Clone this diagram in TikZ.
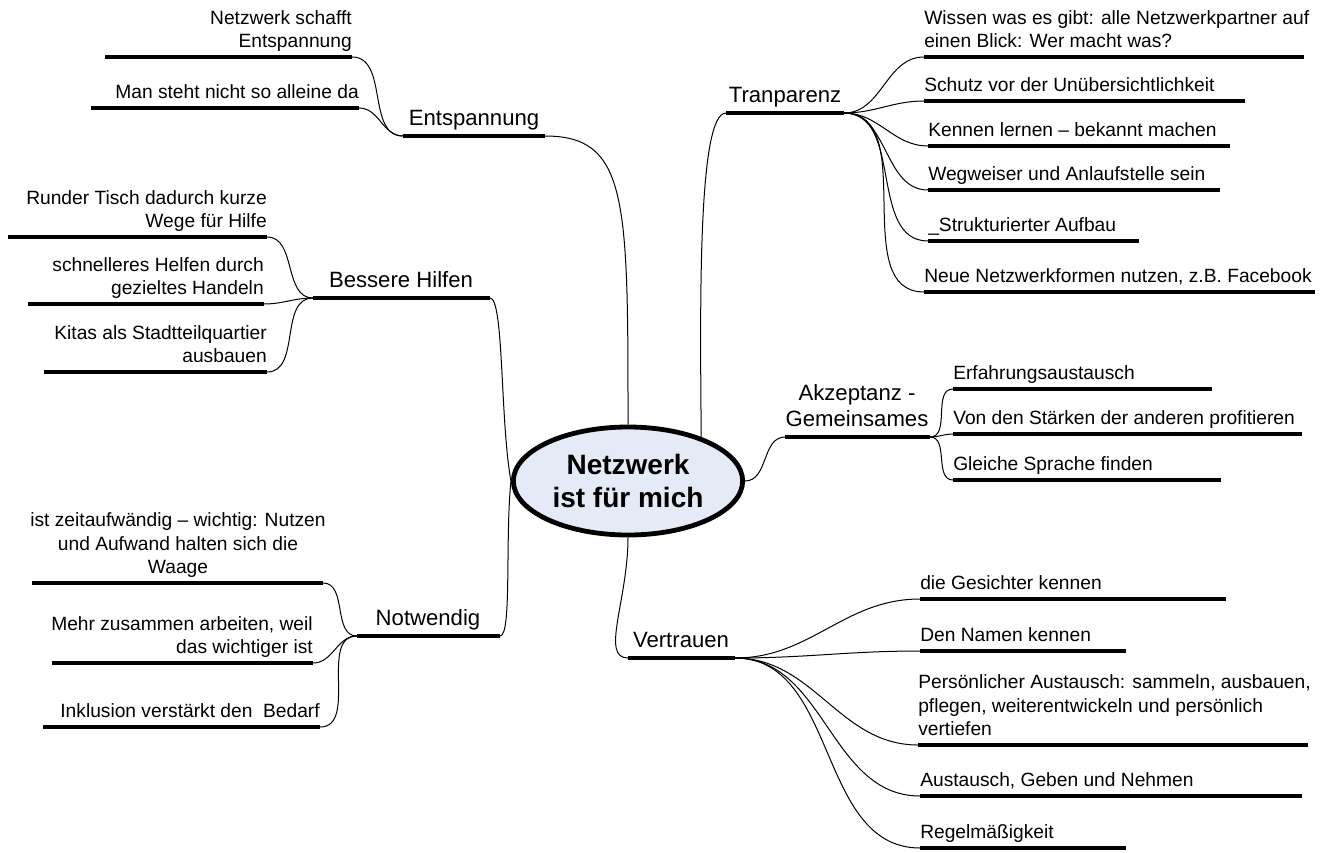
\documentclass[tikz,border=0pt]{standalone}
\usepackage{fontspec}
\setmainfont{Liberation Sans}
\usetikzlibrary{shapes.geometric}
\definecolor{ellfill}{RGB}{228,234,246}
\begin{document}
\begin{tikzpicture}[x=0.75pt,y=-0.75pt,
  ul/.style={line width=3.6pt},
  con/.style={line width=0.75pt},
  sub/.style={inner sep=0pt, font=\fontsize{14.4}{17.6}\selectfont, execute at end node=\strut},
  mainlbl/.style={inner sep=0pt, align=center, font=\fontsize{16.6}{20}\selectfont, execute at end node=\strut},
  lsub/.style={sub, anchor=south west, align=left},
  rsub/.style={sub, anchor=south east, align=right},
]
\useasboundingbox (0,0) rectangle (1326,852);

% centre
\node[ellipse, draw, line width=3.6pt, fill=ellfill, minimum width=172pt, minimum height=81pt, inner sep=0pt,
      align=center, font=\fontsize{21}{25}\selectfont\bfseries] (cen) at (628,481) {Netzwerk\\ist für mich};

% ---------- Entspannung
\coordinate (entL) at (403,136); \coordinate (entR) at (545,136);
\draw[ul] (entL) -- (entR);
\node[mainlbl, anchor=south] (ent) at (474,134) {Entspannung};
\coordinate (e1L) at (105,57); \coordinate (e1R) at (352,57);
\draw[ul] (e1L) -- (e1R);
\node[rsub] (e1) at (352,55) {Netzwerk schafft\\Entspannung};
\coordinate (e2L) at (91,108); \coordinate (e2R) at (359,108);
\draw[ul] (e2L) -- (e2R);
\node[rsub] (e2) at (359,106) {Man steht nicht so alleine da};
\draw[con] (entL) to[out=180,in=0] (e1R);
\draw[con] (entL) to[out=180,in=0] (e2R);
\draw[con] (entR) .. controls (628,136) and (628,200) .. (cen.north);

% ---------- Tranparenz
\coordinate (traL) at (726,113); \coordinate (traR) at (844,113);
\draw[ul] (traL) -- (traR);
\node[mainlbl, anchor=south] (tra) at (785,111) {Tranparenz};
\coordinate (t1L) at (924,57); \coordinate (t1R) at (1304,57);
\draw[ul] (t1L) -- (t1R);
\node[lsub] (t1) at (924,55) {Wissen was es gibt: alle Netzwerkpartner auf\\einen Blick: Wer macht was?};
\coordinate (t2L) at (924,101); \coordinate (t2R) at (1245,101);
\draw[ul] (t2L) -- (t2R);
\node[lsub] (t2) at (924,99) {Schutz vor der Unübersichtlichkeit};
\coordinate (t3L) at (928,146); \coordinate (t3R) at (1230,146);
\draw[ul] (t3L) -- (t3R);
\node[lsub] (t3) at (928,144) {Kennen lernen – bekannt machen};
\coordinate (t4L) at (928,190); \coordinate (t4R) at (1220,190);
\draw[ul] (t4L) -- (t4R);
\node[lsub] (t4) at (928,188) {Wegweiser und Anlaufstelle sein};
\coordinate (t5L) at (928,241); \coordinate (t5R) at (1139,241);
\draw[ul] (t5L) -- (t5R);
\node[lsub] (t5) at (928,239) {\_Strukturierter Aufbau};
\coordinate (t6L) at (924,292); \coordinate (t6R) at (1315,292);
\draw[ul] (t6L) -- (t6R);
\node[lsub] (t6) at (924,290) {Neue Netzwerkformen nutzen, z.B. Facebook};
\foreach \c in {t1L,t2L,t3L,t4L,t5L,t6L} \draw[con] (traR) to[out=0,in=180] (\c);
\draw[con] (cen.31) .. controls (700,300) and (698,113) .. (traL);

% ---------- Bessere Hilfen
\coordinate (besL) at (313,298); \coordinate (besR) at (490,298);
\draw[ul] (besL) -- (besR);
\node[mainlbl, anchor=south] (bes) at (401,296) {Bessere Hilfen};
\coordinate (b1L) at (8,237); \coordinate (b1R) at (267,237);
\draw[ul] (b1L) -- (b1R);
\node[rsub] (b1) at (267,235) {Runder Tisch dadurch kurze\\Wege für Hilfe};
\coordinate (b2L) at (28,304); \coordinate (b2R) at (264,304);
\draw[ul] (b2L) -- (b2R);
\node[rsub] (b2) at (264,302) {schnelleres Helfen durch\\gezieltes Handeln};
\coordinate (b3L) at (44,372); \coordinate (b3R) at (267,372);
\draw[ul] (b3L) -- (b3R);
\node[rsub] (b3) at (267,370) {Kitas als Stadtteilquartier\\ausbauen};
\foreach \c in {b1R,b2R,b3R} \draw[con] (besL) to[out=180,in=0] (\c);
\draw[con] (besR) .. controls (504,298) and (500,420) .. (cen.west);

% ---------- Notwendig
\coordinate (notL) at (357,636); \coordinate (notR) at (500,636);
\draw[ul] (notL) -- (notR);
\node[mainlbl, anchor=south] (not) at (428,634) {Notwendig};
\coordinate (n1L) at (32,583); \coordinate (n1R) at (323,583);
\draw[ul] (n1L) -- (n1R);
\node[sub, anchor=south, align=center] (n1) at (178,581) {ist zeitaufwändig – wichtig: Nutzen\\und Aufwand halten sich die\\Waage};
\coordinate (n2L) at (52,663); \coordinate (n2R) at (313,663);
\draw[ul] (n2L) -- (n2R);
\node[rsub] (n2) at (313,661) {Mehr zusammen arbeiten, weil\\das wichtiger ist};
\coordinate (n3L) at (43,727); \coordinate (n3R) at (320,727);
\draw[ul] (n3L) -- (n3R);
\node[rsub] (n3) at (320,725) {Inklusion verstärkt den\ \ Bedarf};
\foreach \c in {n1R,n2R,n3R} \draw[con] (notL) to[out=180,in=0] (\c);
\draw[con] (notR) .. controls (512,636) and (505,540) .. (cen.west);

% ---------- Akzeptanz
\coordinate (akzL) at (785,437); \coordinate (akzR) at (930,437);
\draw[ul] (akzL) -- (akzR);
\node[mainlbl, anchor=south] (akz) at (857,435) {Akzeptanz -\\Gemeinsames};
\coordinate (a1L) at (953,389); \coordinate (a1R) at (1212,389);
\draw[ul] (a1L) -- (a1R);
\node[lsub] (a1) at (953,387) {Erfahrungsaustausch};
\coordinate (a2L) at (953,434); \coordinate (a2R) at (1302,434);
\draw[ul] (a2L) -- (a2R);
\node[lsub] (a2) at (953,432) {Von den Stärken der anderen profitieren};
\coordinate (a3L) at (953,480); \coordinate (a3R) at (1221,480);
\draw[ul] (a3L) -- (a3R);
\node[lsub] (a3) at (953,478) {Gleiche Sprache finden};
\foreach \c in {a1L,a2L,a3L} \draw[con] (akzR) to[out=0,in=180] (\c);
\draw[con] (cen.east) to[out=0,in=180] (akzL);

% ---------- Vertrauen
\coordinate (verL) at (628,658); \coordinate (verR) at (735,658);
\draw[ul] (verL) -- (verR);
\node[mainlbl, anchor=south] (ver) at (681,656) {Vertrauen};
\coordinate (v1L) at (920,599); \coordinate (v1R) at (1226,599);
\draw[ul] (v1L) -- (v1R);
\node[lsub] (v1) at (920,597) {die Gesichter kennen};
\coordinate (v2L) at (920,651); \coordinate (v2R) at (1126,651);
\draw[ul] (v2L) -- (v2R);
\node[lsub] (v2) at (920,649) {Den Namen kennen};
\coordinate (v3L) at (918,745); \coordinate (v3R) at (1308,745);
\draw[ul] (v3L) -- (v3R);
\node[lsub] (v3) at (918,743) {Persönlicher Austausch: sammeln, ausbauen,\\pflegen, weiterentwickeln und persönlich\\vertiefen};
\coordinate (v4L) at (920,796); \coordinate (v4R) at (1302,796);
\draw[ul] (v4L) -- (v4R);
\node[lsub] (v4) at (920,794) {Austausch, Geben und Nehmen};
\coordinate (v5L) at (920,848); \coordinate (v5R) at (1126,848);
\draw[ul] (v5L) -- (v5R);
\node[lsub] (v5) at (920,846) {Regelmäßigkeit};
\foreach \c in {v1L,v2L,v3L,v4L,v5L} \draw[con] (verR) to[out=0,in=180] (\c);
\draw[con] (cen.south) .. controls (628,600) and (600,658) .. (verL);
\end{tikzpicture}
\end{document}
